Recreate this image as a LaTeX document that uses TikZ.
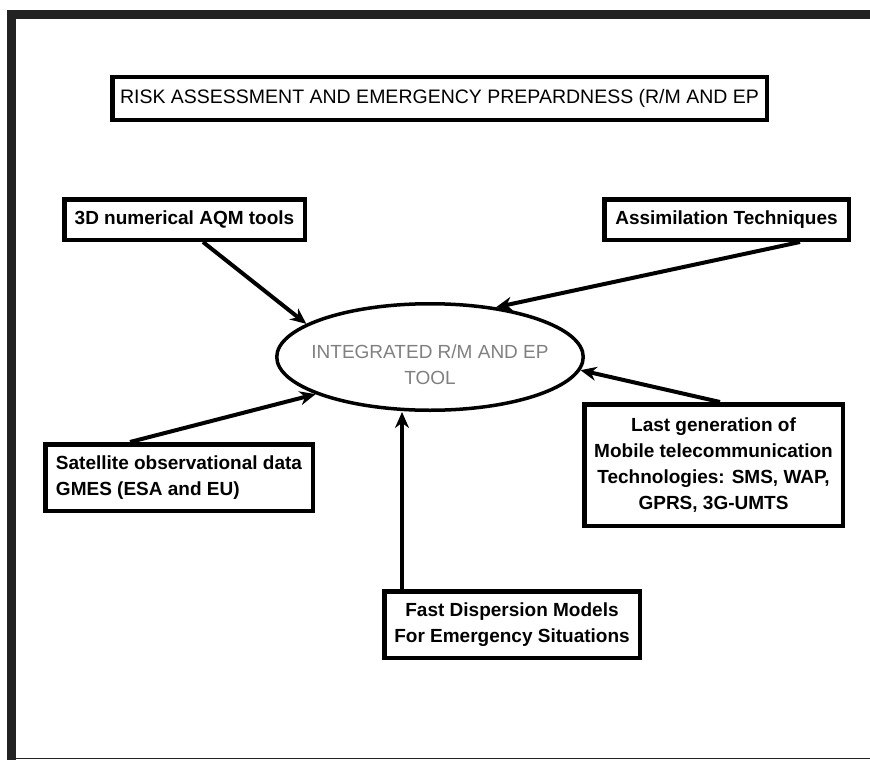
\documentclass[tikz,border=0pt]{standalone}
\usepackage{fontspec}
\setmainfont{Liberation Sans}
\usetikzlibrary{arrows.meta, positioning, calc, shapes.geometric}
\definecolor{framegray}{HTML}{222222}
\definecolor{toolgray}{HTML}{808080}

\begin{document}
\begin{tikzpicture}[
		x=1pt, y=-1pt,
		box/.style={draw, line width=4.5pt, inner sep=0pt, align=center,
			font=\bfseries\fontsize{19pt}{26pt}\selectfont},
		arr/.style={-{Stealth[length=16pt, width=14pt]}, line width=4pt}
		]
		
		% Frame
		\useasboundingbox (0,0) rectangle (870,760);
		\fill[framegray] (7,10) rectangle (870,19);
		\fill[framegray] (7,10) rectangle (16,760);
		\draw[framegray, line width=1.5pt] (16,758.5) -- (870,758.5);
		
		% Title
		\node[box, font=\fontsize{19.5pt}{26pt}\selectfont,
		minimum width=654.5pt, minimum height=42.5pt] (risk) at (439.5,98.5)
		{RISK ASSESSMENT AND EMERGENCY PREPARDNESS (R/M AND EP};
		
		% Central tool
		\node[ellipse, draw, line width=3.5pt, inner sep=0pt,
		minimum width=306.5pt, minimum height=106.5pt,
		label={[yshift=-8pt, align=center, text=toolgray,
			font=\fontsize{19pt}{26pt}\selectfont]center:INTEGRATED R/M AND EP\\TOOL}]
		(tool) at (430,357) {};
		
		% Inputs
		\node[box, minimum width=240.5pt, minimum height=40.5pt] (aqm) at (184.5,219.5)
		{3D numerical AQM tools};
		\node[box, minimum width=244.5pt, minimum height=40.5pt] (assim) at (726.5,219.5)
		{Assimilation Techniques};
		\node[box, align=left, minimum width=267.5pt, minimum height=66.5pt] (sat) at (179,477.5)
		{Satellite observational data\\GMES (ESA and EU)};
		\node[box, minimum width=258.5pt, minimum height=121.5pt] (mobile) at (713.5,465)
		{Last generation of\\Mobile telecommunication\\Technologies: SMS, WAP,\\GPRS, 3G-UMTS};
		\node[box, minimum width=255.5pt, minimum height=66.5pt] (fast) at (512,624.5)
		{Fast Dispersion Models\\For Emergency Situations};
		
		% Arrows
		\draw[arr] ([xshift=18.5pt]aqm.south) -- (tool.165);
		\draw[arr] ([xshift=73.5pt]assim.south) -- (tool.37);
		\draw[arr] ([xshift=-49pt]sat.north) -- (tool.198);
		\draw[arr] ([xshift=6.5pt]mobile.north) -- (tool.-5);
		\draw[arr] ([xshift=-110pt]fast.north) -- ([xshift=-110pt]fast.north |- tool.south);
		
	\end{tikzpicture}
\end{document}
